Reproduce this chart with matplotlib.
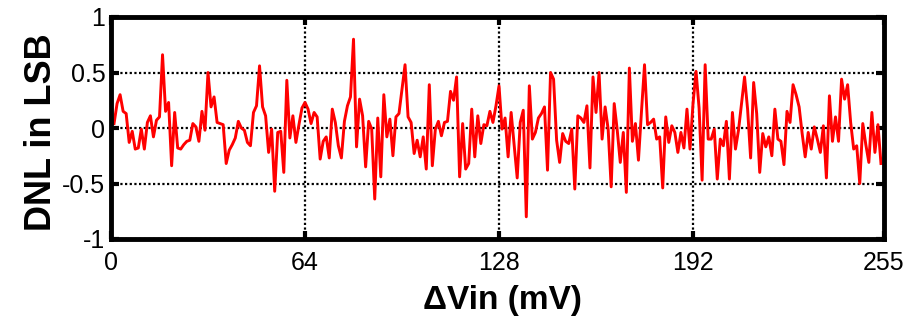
import numpy as np
import matplotlib
matplotlib.use("Agg")
import matplotlib.pyplot as plt

plt.rcParams["font.family"] = ["Liberation Sans", "DejaVu Sans"]

# DNL per output code (LSB), codes 1..254
dnl_lsb = [
    # codes 1-43
    0.04, 0.22, 0.30, 0.15, 0.13, -0.13, -0.03, -0.19, -0.18, -0.01,
    -0.19, 0.05, 0.11, -0.08, 0.07, 0.10, 0.66, 0.15, 0.23, -0.34,
    0.14, -0.18, -0.19, -0.15, -0.12, -0.11, 0.04, 0.01, -0.12, 0.15,
    -0.02, 0.50, 0.19, 0.28, 0.05, 0.04, 0.03, -0.32, -0.20, -0.15,
    -0.09, 0.06, 0.00,
    # codes 44-86
    -0.02, -0.13, -0.16, 0.14, 0.20, 0.56, 0.19, 0.11, -0.22, -0.01,
    -0.57, -0.04, -0.03, -0.40, 0.43, -0.09, 0.11, -0.13, 0.03, 0.18,
    0.23, 0.17, 0.04, 0.14, 0.10, -0.28, -0.12, -0.08, -0.27, 0.17,
    0.05, -0.16, -0.27, 0.06, 0.20, 0.28, 0.80, -0.17, 0.26, 0.11,
    -0.35, 0.06, -0.01,
    # codes 87-129
    -0.64, 0.09, -0.44, 0.30, -0.08, 0.08, -0.25, 0.10, 0.13, 0.35,
    0.57, 0.10, 0.05, -0.23, -0.11, -0.26, -0.08, -0.37, 0.39, -0.34,
    -0.01, 0.06, -0.07, 0.05, 0.06, 0.33, 0.25, 0.46, -0.44, 0.04,
    -0.37, -0.32, 0.17, -0.26, 0.11, -0.14, 0.03, 0.02, 0.15, 0.05,
    0.20, 0.38, -0.01,
    # codes 130-172
    0.09, -0.26, 0.14, -0.15, -0.45, 0.05, 0.16, -0.80, 0.38, -0.10,
    -0.04, 0.09, 0.13, 0.19, -0.38, 0.50, 0.44, -0.11, -0.31, -0.05,
    -0.12, -0.14, -0.01, -0.55, 0.11, 0.09, 0.05, 0.20, -0.36, 0.46,
    0.14, 0.50, -0.10, 0.19, -0.01, -0.53, 0.22, -0.02, -0.31, -0.04,
    -0.58, 0.54, -0.12,
    # codes 173-215
    0.04, -0.29, 0.15, 0.57, 0.03, 0.05, 0.08, -0.10, -0.08, -0.54,
    0.10, -0.13, 0.02, -0.04, -0.22, -0.04, -0.18, 0.17, -0.19, 0.22,
    0.51, 0.18, -0.47, 0.57, -0.10, -0.10, -0.01, -0.46, -0.10, -0.16,
    0.06, -0.46, 0.14, -0.19, -0.02, 0.22, 0.46, 0.17, -0.27, 0.41,
    0.13, -0.40, -0.05,
    # codes 216-254
    -0.17, -0.08, -0.25, 0.17, -0.10, -0.12, -0.33, 0.15, 0.05, 0.39,
    0.30, 0.19, -0.05, -0.26, -0.04, -0.19, 0.01, -0.10, -0.22, 0.02,
    -0.45, 0.29, -0.12, 0.10, -0.12, 0.44, 0.26, 0.39, 0.05, -0.19,
    -0.16, -0.50, 0.04, -0.15, -0.31, 0.14, -0.22, 0.03, -0.32,
]
codes = np.arange(1, len(dnl_lsb) + 1)

x_ticks = [0, 64, 128, 192, 255]
x_tick_labels = ["0", "64", "128", "192", "255"]
y_ticks = [-1, -0.5, 0, 0.5, 1]
y_tick_labels = ["-1", "-0.5", "0", "0.5", "1"]

W, H = 914, 320
fig = plt.figure(figsize=(W / 100, H / 100), dpi=100)
ax = fig.add_axes([111 / W, 1 - 239 / H, (884 - 111) / W, (239 - 17) / H])

ax.plot(codes, dnl_lsb, color="#ff0000", linewidth=2.1, zorder=3)

ax.set_xlim(0, 255)
ax.set_ylim(-1, 1)
ax.set_xticks(x_ticks)
ax.set_xticklabels(x_tick_labels)
ax.set_yticks(y_ticks)
ax.set_yticklabels(y_tick_labels)

ax.grid(True, color="black", linestyle=(0, (1, 1.1)), linewidth=1.6, zorder=1)
for s in ax.spines.values():
    s.set_linewidth(3.5)
    s.set_zorder(4)

ax.tick_params(direction="in", length=6, width=3, top=True, right=True,
               labelsize=18, colors="black")
ax.tick_params(axis="x", pad=9)
ax.tick_params(axis="y", pad=4)

fig.text(502 / W, 1 - 300 / H, "\u0394Vin (mV)", ha="center", va="center",
         fontsize=24, fontweight="bold")
fig.text(42 / W, 1 - 132 / H, "DNL in LSB", ha="center", va="center",
         rotation=90, fontsize=26, fontweight="bold")

fig.savefig("out.png", dpi=100, facecolor="white")
